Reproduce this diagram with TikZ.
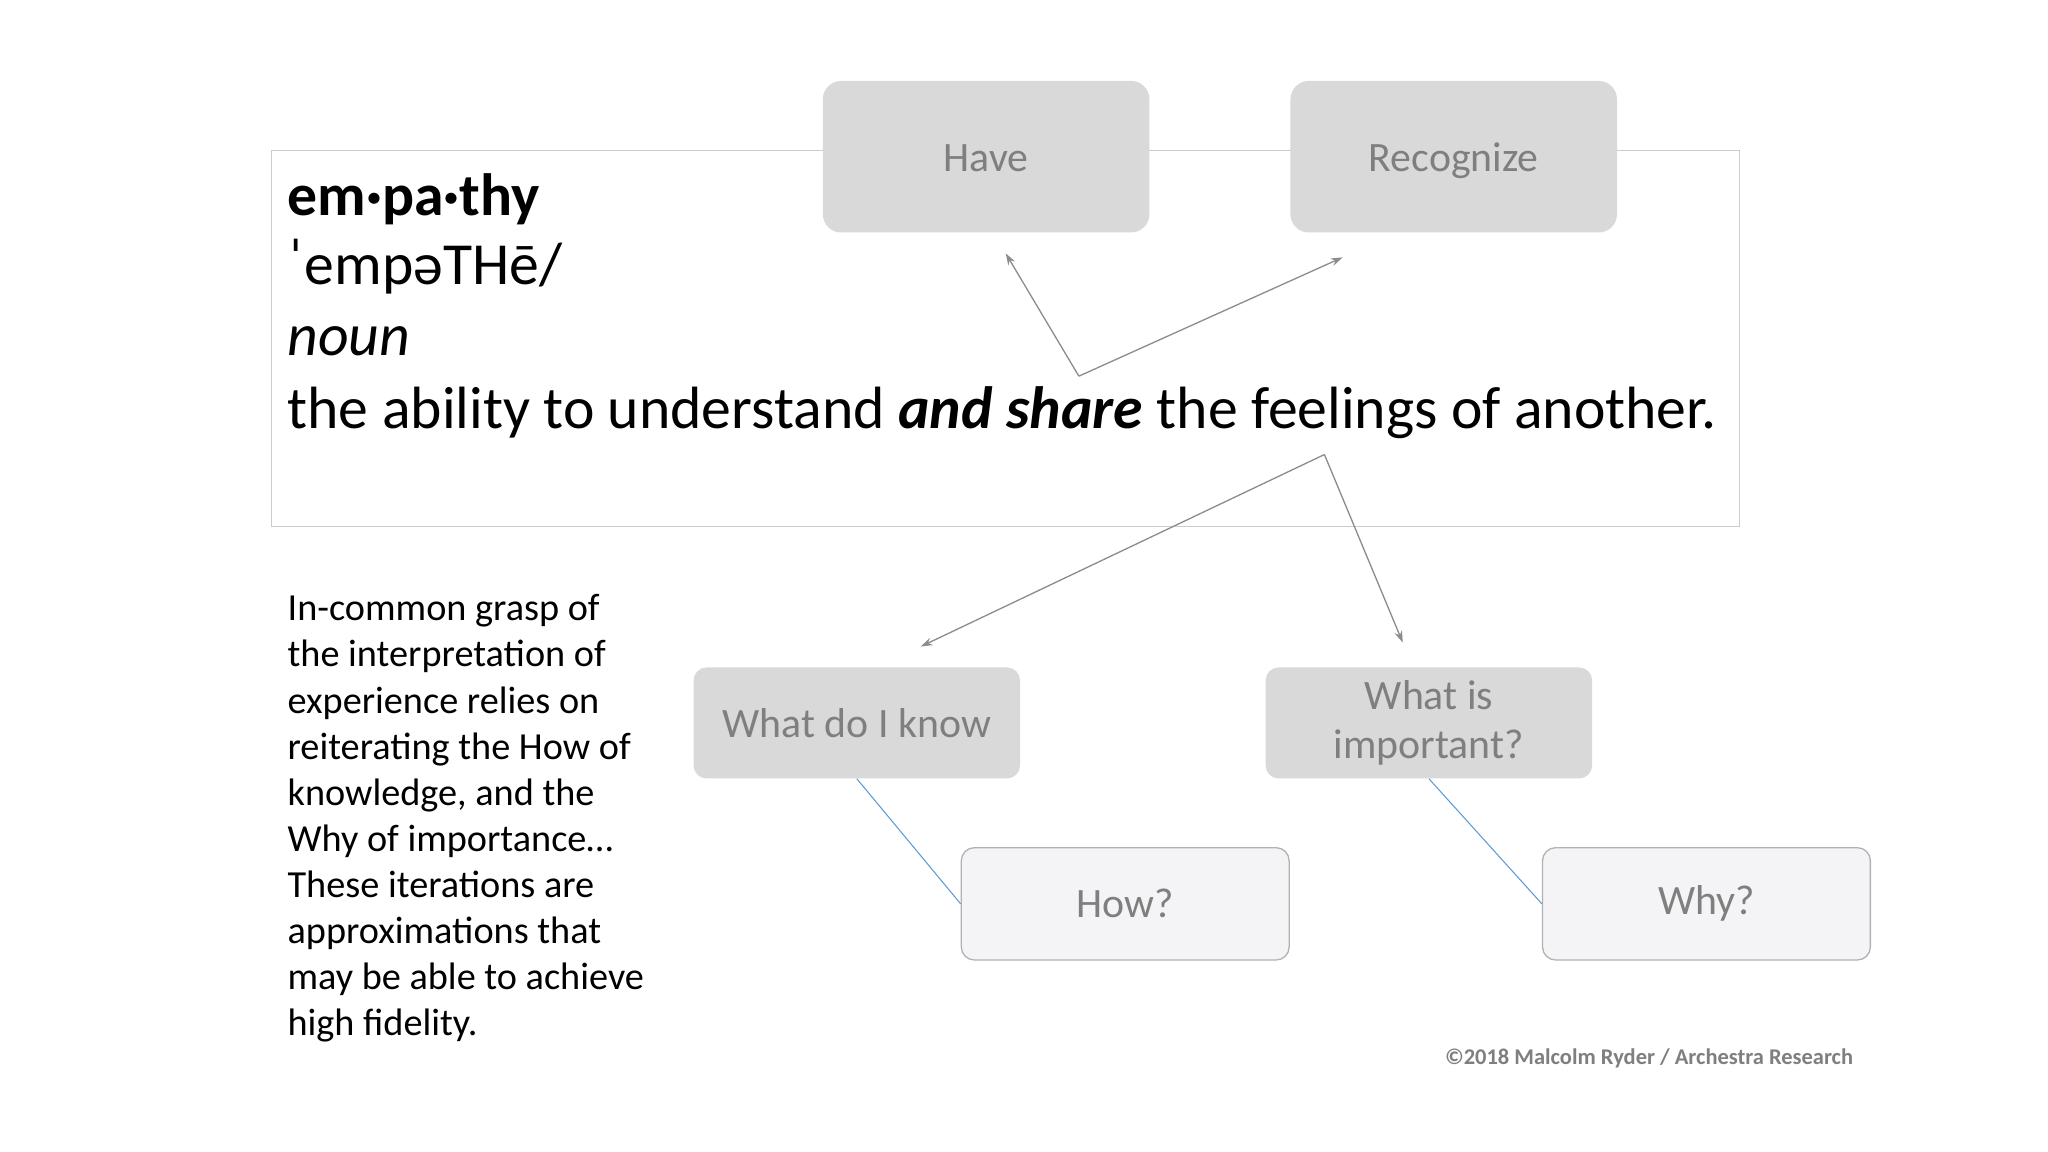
\documentclass[tikz,border=0pt]{standalone}
\usepackage{fontspec}
\setmainfont{Carlito}
\usetikzlibrary{arrows.meta}
\definecolor{boxg}{HTML}{D9D9D9}
\definecolor{txtg}{HTML}{7F7F7F}
\definecolor{lineg}{HTML}{8C8C8C}
\definecolor{lightb}{HTML}{F4F4F6}
\definecolor{blu}{HTML}{5B9BD5}
\tikzset{
  topbox/.style={draw=none,fill=boxg,rounded corners=14pt,minimum width=250pt,minimum height=116pt,text=txtg,font=\fontsize{32}{34}\selectfont,align=center,text height=22pt,text depth=0pt},
  midbox/.style={draw=none,fill=boxg,rounded corners=10pt,minimum width=250pt,minimum height=85pt,text=txtg,font=\fontsize{32}{39}\selectfont,align=center},
  lowbox/.style={draw=black!30,line width=1pt,fill=lightb,rounded corners=10pt,minimum width=251pt,minimum height=86pt,text=txtg,font=\fontsize{32}{34}\selectfont},
  arr/.style={draw=lineg,line width=1pt,-{Stealth[length=9pt,width=6pt]}},
  defl/.style={anchor=base west,inner sep=0pt,font=\fontsize{45.7}{48}\selectfont}
}
\begin{document}
\begin{tikzpicture}[x=1pt,y=-1pt]
\useasboundingbox[fill=white] (0,0) rectangle (1568,882);
\draw[black!20,line width=1pt] (208,115) rectangle (1332,403);
\node[topbox] (have) at (755,120) {Have};
\node[topbox] (rec) at (1113,120) {Recognize};
\node[defl] (t1) at (220,165) {\bfseries em·pa·thy};
\node[defl] (t2) at (220,218) {ˈempəTHē/};
\node[defl] (t3) at (220,272) {\itshape noun};
\node[defl] (t4) at (220,328) {the ability to understand \textbf{\textit{and share}} the feelings of another.};
\coordinate (j1) at (826,288);
\coordinate (h1) at (770,194);
\coordinate (r1) at (1028,197);
\draw[arr] (j1) -- (h1);
\draw[arr] (j1) -- (r1);
\coordinate (j2) at (1014,348);
\coordinate (w1) at (705,495);
\coordinate (w2) at (1074,492);
\draw[arr] (j2) -- (w1);
\draw[arr] (j2) -- (w2);
\node[midbox] (know) at (656,553.5) {What do I know};
\node[midbox] (imp) at (1094,553.5) {\raisebox{-2pt}{What is}\\important?};
\node[lowbox] (how) at (861.5,692) {How?};
\node[lowbox] (why) at (1306.5,692) {Why?};
\draw[blu,line width=0.8pt] (know.south) -- (how.west);
\draw[blu,line width=0.8pt] (imp.south) -- (why.west);
\node[anchor=north west,inner sep=0pt,align=left,font=\fontsize{29.3}{35.3}\selectfont] (para) at (220,455) {In-common grasp of\\the interpretation of\\experience relies on\\reiterating the How of\\knowledge, and the\\Why of importance…\\These iterations are\\approximations that\\may be able to achieve\\high fidelity.};
\node[anchor=base east,inner sep=0pt,text=txtg,font=\fontsize{17.2}{19}\selectfont\bfseries] (copy) at (1419,815) {©2018 Malcolm Ryder / Archestra Research};
\end{tikzpicture}
\end{document}
